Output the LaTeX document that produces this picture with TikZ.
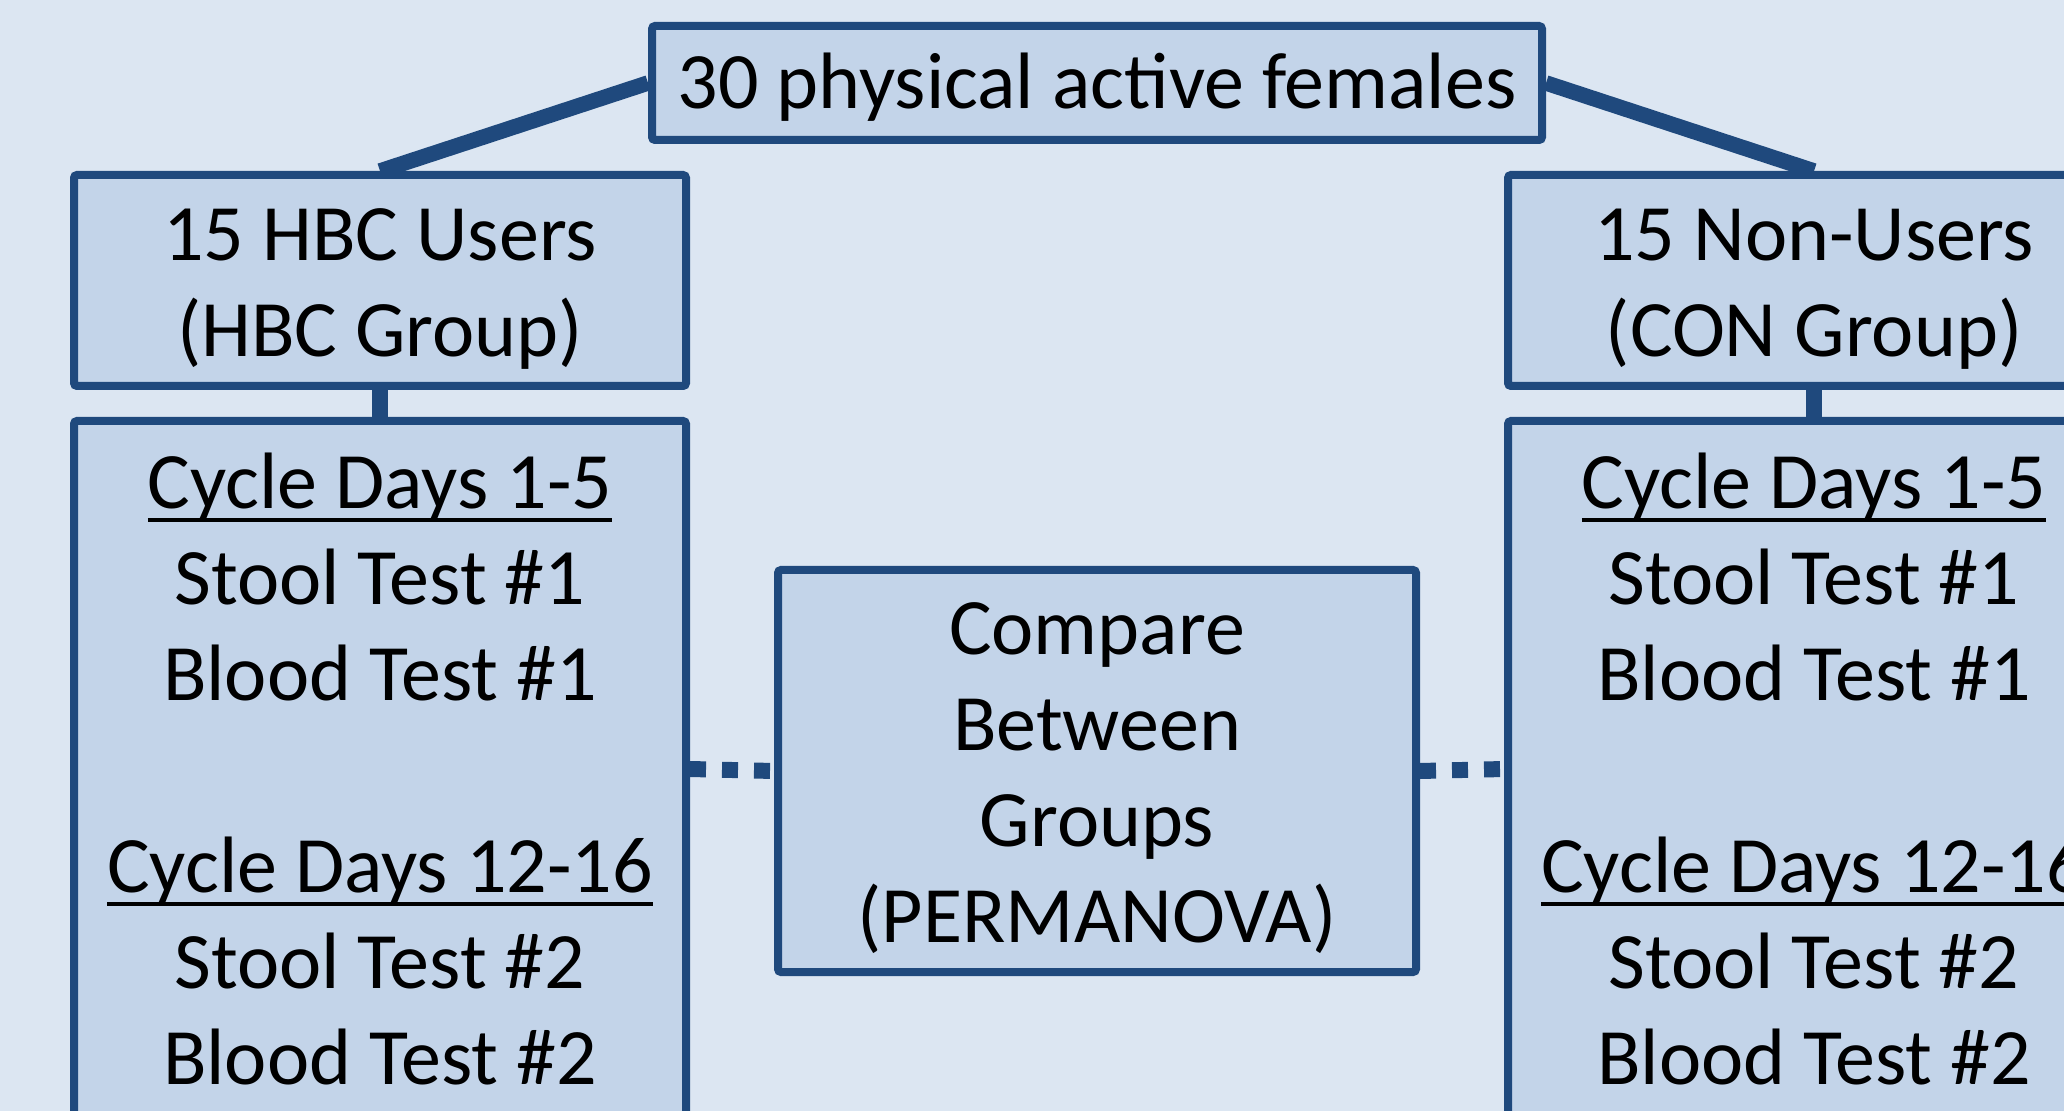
\documentclass[tikz,border=0pt]{standalone}
\usepackage{fontspec}
\setmainfont{Carlito}
\usepackage{tikz}
\usetikzlibrary{positioning}

\definecolor{bgblue}{HTML}{DCE6F2}
\definecolor{boxfill}{HTML}{C3D4E9}
\definecolor{boxline}{HTML}{1F497D}

% underlined heading with a thick rule
\newcommand{\dayhead}[1]{\setbox0\hbox{#1}\rlap{\usebox0}\rule[-7pt]{\wd0}{2pt}}

\begin{document}
\begin{tikzpicture}[
    x=0.5pt, y=-0.5pt,
    box/.style={draw=boxline, line width=4pt, rounded corners=1.5pt, fill=boxfill, align=center, inner sep=0pt, font=\fontsize{40}{48}\selectfont},
    link/.style={draw=boxline, line width=7.75pt},
    dotlink/.style={draw=boxline, line width=8pt, dash pattern=on 8pt off 8pt}
]
    \clip (0,0) rectangle (2064,1111);
    \fill[bgblue] (0,0) rectangle (2064,1111);

    \node[box, minimum width=445pt, minimum height=57pt] (all) at (1097,83) {\rule{0pt}{32pt}30 physical active females};
    \node[box, minimum width=306pt, minimum height=105.5pt] (hbc) at (380,280.5) {\rule{0pt}{34pt}15 HBC Users\\(HBC Group)};
    \node[box, minimum width=306pt, minimum height=105.5pt] (con) at (1814,280.5) {\rule{0pt}{34pt}15 Non-Users\\(CON Group)};

    \node[box, minimum width=306pt, minimum height=348pt, below=13.5pt of hbc] (hbcdays) {\dayhead{Cycle Days 1-5}\\Stool Test \#1\\Blood Test \#1\\\mbox{}\\\dayhead{Cycle Days 12-16}\\Stool Test \#2\\Blood Test \#2};
    \node[box, minimum width=306pt, minimum height=348pt, below=13.5pt of con] (condays) {\dayhead{Cycle Days 1-5}\\Stool Test \#1\\Blood Test \#1\\\mbox{}\\\dayhead{Cycle Days 12-16}\\Stool Test \#2\\Blood Test \#2};

    \node[box, minimum width=319pt, minimum height=201pt] (cmp) at (1097,771) {\rule{0pt}{33pt}Compare\\Between\\Groups\\(PERMANOVA)};

    \draw[link] (all.west) -- (hbc.north);
    \draw[link] (all.east) -- (con.north);
    \draw[link] (hbc.south) -- (hbcdays.north);
    \draw[link] (con.south) -- (condays.north);
    \draw[dotlink] (hbcdays.east) -- (cmp.west);
    \draw[dotlink] (cmp.east) -- (condays.west);
\end{tikzpicture}
\end{document}
